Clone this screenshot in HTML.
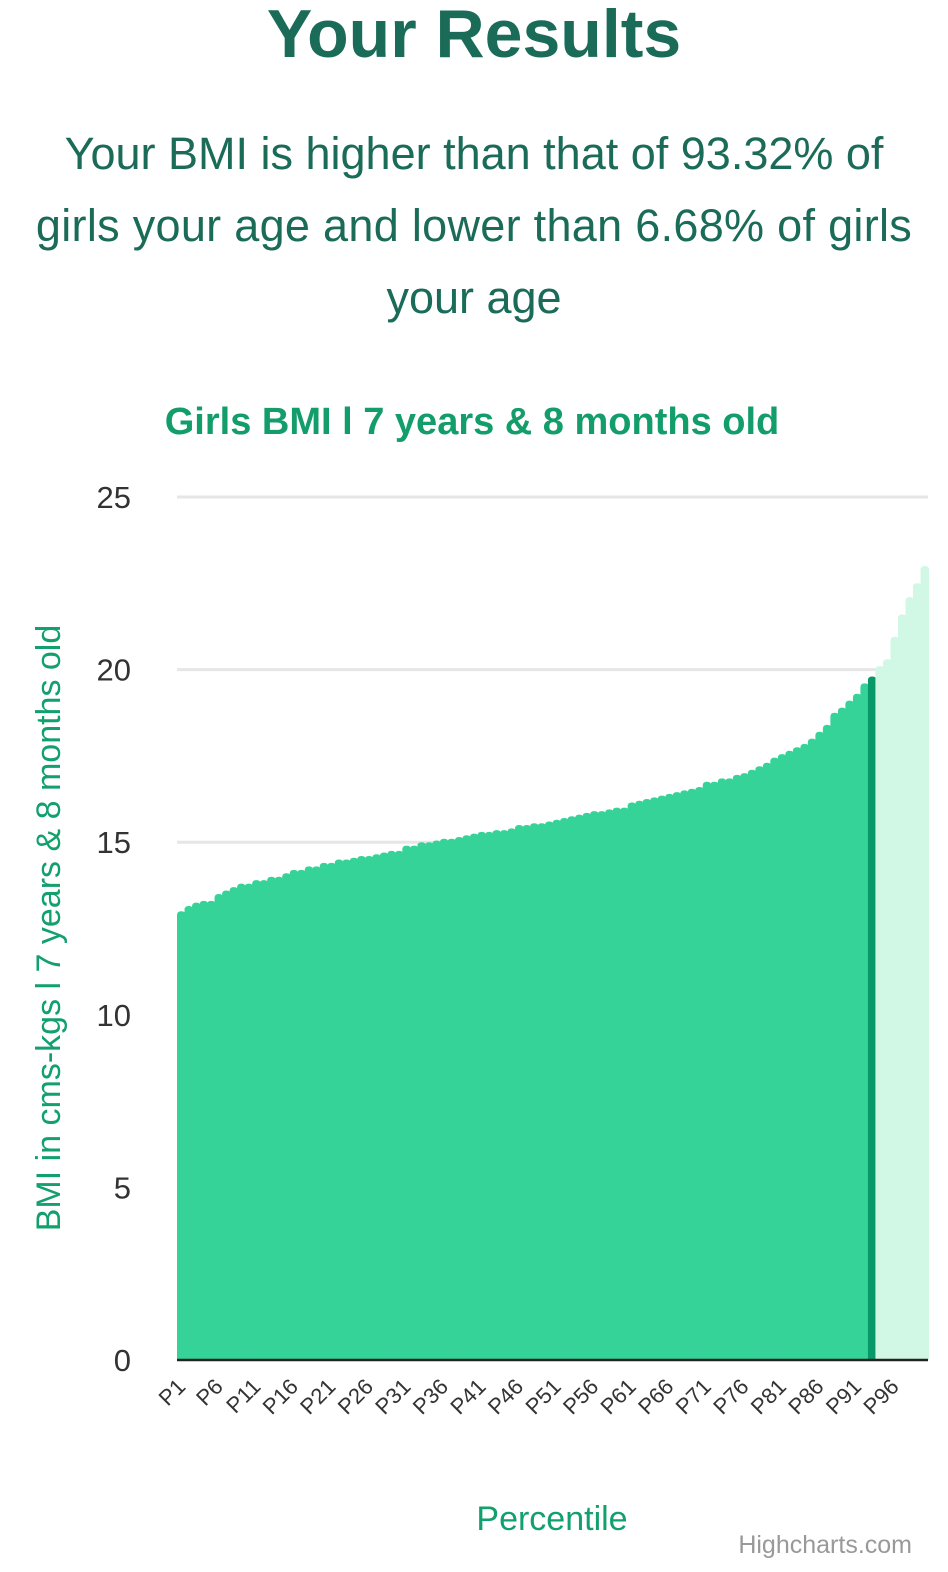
<!DOCTYPE html>
<html><head><meta charset="utf-8"><style>
body{margin:0;width:948px;height:1572px;background:#fff;font-family:"Liberation Sans",Arial,sans-serif;overflow:hidden;position:relative}
h1{position:absolute;top:0;left:0;width:948px;margin:0;text-align:center;font-size:68px;line-height:68px;font-weight:bold;color:#1a6b58}
p{position:absolute;top:118px;left:0;width:948px;margin:0;text-align:center;font-size:45px;line-height:72px;color:#1a6b58}
svg{position:absolute;left:0;top:0}
</style></head><body>
<h1>Your Results</h1>
<p>Your BMI is higher than that of 93.32% of<br><span style="letter-spacing:0.3px">girls your age and lower than 6.68% of girls</span><br>your age</p>
<svg id="chart" width="948" height="1572"></svg>
<script>
const categories=[];for(let i=1;i<=100;i++)categories.push('P'+i);
const values=[13.0,13.15,13.25,13.3,13.3,13.5,13.6,13.7,13.8,13.8,13.9,13.9,14.0,14.0,14.1,14.2,14.2,14.3,14.3,14.4,14.4,14.5,14.5,14.55,14.6,14.6,14.65,14.7,14.75,14.75,14.9,14.9,15.0,15.0,15.05,15.1,15.1,15.15,15.2,15.25,15.3,15.3,15.35,15.35,15.4,15.5,15.5,15.55,15.55,15.6,15.65,15.7,15.75,15.8,15.85,15.9,15.9,15.95,16.0,16.0,16.15,16.2,16.25,16.3,16.35,16.4,16.45,16.5,16.55,16.6,16.75,16.75,16.85,16.85,16.95,17.0,17.1,17.2,17.3,17.45,17.55,17.65,17.75,17.85,18.0,18.2,18.4,18.75,18.9,19.1,19.3,19.6,19.8,20.1,20.3,20.95,21.6,22.1,22.5,23.0];
const yTicks=[0,5,10,15,20,25];
const highlightIndex=92;
const NS='http://www.w3.org/2000/svg';
const svg=document.getElementById('chart');
const x0=177,x1=928,y0=1360,y1=497;
const pitch=(x1-x0)/categories.length;
const xPos=i=>x0+i*pitch;
const yPos=v=>y0-(v/25)*(y0-y1);
function mk(t,a){const e=document.createElementNS(NS,t);for(const k in a)e.setAttribute(k,a[k]);svg.appendChild(e);return e;}
let t=mk('text',{x:472,y:434,'text-anchor':'middle','font-size':38,'font-weight':'bold',fill:'#129d6a'});


t.textContent='Girls BMI l 7 years & 8 months old';
yTicks.forEach(v=>{
 if(v>0){const g=mk('line',{x1:x0,x2:x1,y1:yPos(v),y2:yPos(v),stroke:'#e6e6e6','stroke-width':3});
 
 }
 const l=mk('text',{x:131,y:yPos(v)+11,'text-anchor':'end','font-size':31,fill:'#333'});
 
 
 l.textContent=v;
});
values.forEach((v,i)=>{
 const x=xPos(i),w=pitch+1,top=yPos(v),r=4;
 const fill=i===highlightIndex?'#07996a':(i>highlightIndex?'#d0f8e4':'#36d399');
 const d=`M${x},${y0}V${top+r}Q${x},${top} ${x+r},${top}H${x+w-r}Q${x+w},${top} ${x+w},${top+r}V${y0}Z`;
 const b=mk('path',{d:d,fill:fill});
 
 
});
const ax=mk('line',{x1:x0,x2:x1,y1:y0,y2:y0,stroke:'#222','stroke-width':2.5});


categories.forEach((c,i)=>{
 if(i%5!==0)return;
 const cx=xPos(i)+pitch/2+6,cy=1388;
 const l=mk('text',{x:cx,y:cy,'text-anchor':'end','font-size':22,fill:'#333',transform:`rotate(-45 ${cx} ${cy})`});
 
 
 l.textContent=c;
});
t=mk('text',{x:552,y:1530,'text-anchor':'middle','font-size':34,fill:'#13a06f'});


t.textContent='Percentile';
t=mk('text',{x:60,y:928,'text-anchor':'middle','font-size':34,fill:'#13a06f',transform:'rotate(-90 60 928)'});


t.textContent='BMI in cms-kgs l 7 years & 8 months old';
t=mk('text',{x:912,y:1553,'text-anchor':'end','font-size':25,fill:'#999'});


t.textContent='Highcharts.com';
</script>
</body></html>
